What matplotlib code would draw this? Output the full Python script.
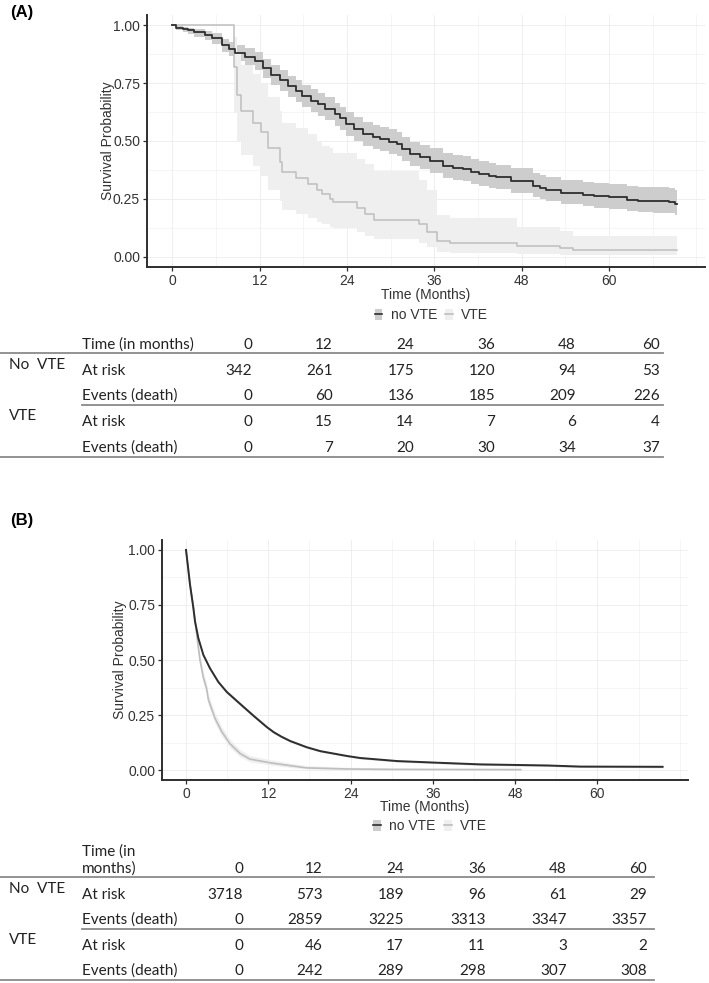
import matplotlib
matplotlib.use('Agg')
import matplotlib.pyplot as plt
from matplotlib.patches import Patch
from matplotlib.lines import Line2D

plt.rcParams['font.family'] = ['Liberation Sans', 'DejaVu Sans']

# ---- panel A : Kaplan-Meier steps ----
a_novte_t = [0, 0.5, 1.5, 2.2, 3.0, 4.5, 5.5, 6.8, 7.8, 8.6, 10.0, 11.4, 12.5, 13.6, 14.8,
             15.9, 17.0, 17.8, 19.0, 20.0, 21.0, 22.3, 23.0, 23.9, 25.0, 26.2, 27.5, 28.5,
             29.7, 30.8, 31.6, 32.6, 34.0, 35.4, 37.2, 38.5, 39.9, 41.0, 42.2, 43.5, 44.5,
             46.6, 49.5, 50.5, 51.4, 53.4, 56.4, 58.0, 60.0, 62.5, 64.0, 66.0, 68.3, 69.1, 69.4]
a_novte_s = [1.0, 0.99, 0.985, 0.98, 0.97, 0.958, 0.945, 0.915, 0.90, 0.88, 0.865, 0.845, 0.815,
             0.787, 0.762, 0.737, 0.715, 0.694, 0.675, 0.658, 0.64, 0.615, 0.598, 0.572, 0.55,
             0.529, 0.517, 0.508, 0.497, 0.486, 0.465, 0.443, 0.43, 0.415, 0.393, 0.385, 0.379,
             0.368, 0.358, 0.35, 0.343, 0.329, 0.307, 0.298, 0.29, 0.276, 0.267, 0.262, 0.257,
             0.246, 0.242, 0.239, 0.237, 0.226, 0.226]
a_novte_lo = [1.0, 0.978, 0.97, 0.962, 0.95, 0.935, 0.918, 0.885, 0.866, 0.845, 0.828, 0.805,
              0.772, 0.742, 0.716, 0.69, 0.667, 0.645, 0.626, 0.608, 0.59, 0.564, 0.547, 0.52,
              0.498, 0.477, 0.465, 0.456, 0.445, 0.434, 0.413, 0.391, 0.378, 0.363, 0.341, 0.333,
              0.327, 0.316, 0.306, 0.298, 0.291, 0.277, 0.256, 0.247, 0.239, 0.226, 0.217, 0.212,
              0.207, 0.197, 0.193, 0.19, 0.188, 0.178, 0.178]
a_novte_hi = [1.0, 0.997, 0.994, 0.99, 0.984, 0.976, 0.966, 0.942, 0.93, 0.915, 0.902, 0.884,
              0.856, 0.83, 0.806, 0.783, 0.762, 0.742, 0.724, 0.707, 0.69, 0.666, 0.649, 0.624,
              0.602, 0.581, 0.569, 0.56, 0.55, 0.539, 0.518, 0.496, 0.483, 0.468, 0.447, 0.439,
              0.433, 0.422, 0.412, 0.404, 0.397, 0.384, 0.362, 0.353, 0.346, 0.333, 0.324, 0.32,
              0.315, 0.305, 0.302, 0.3, 0.298, 0.29, 0.29]

a_vte_t = [0, 8.5, 8.9, 9.4, 11.1, 12.2, 13.2, 14.8, 15.1, 17.0, 18.6, 19.8, 20.5, 21.6, 22.0,
           25.4, 26.5, 27.7, 33.9, 35.0, 36.3, 38.2, 47.3, 53.3, 55.0, 69.3]
a_vte_s = [1.0, 0.82, 0.70, 0.63, 0.58, 0.54, 0.47, 0.41, 0.365, 0.34, 0.315, 0.29, 0.27, 0.25,
           0.236, 0.21, 0.185, 0.16, 0.14, 0.107, 0.067, 0.057, 0.045, 0.037, 0.029, 0.029]
a_vte_lo = [1.0, 0.62, 0.50, 0.44, 0.39, 0.35, 0.29, 0.24, 0.20, 0.185, 0.165, 0.15, 0.14, 0.13,
            0.125, 0.105, 0.09, 0.075, 0.06, 0.04, 0.02, 0.017, 0.01, 0.007, 0.005, 0.005]
a_vte_hi = [1.0, 0.95, 0.88, 0.83, 0.79, 0.75, 0.69, 0.63, 0.58, 0.555, 0.53, 0.50, 0.48, 0.47,
            0.45, 0.42, 0.40, 0.37, 0.33, 0.29, 0.18, 0.165, 0.13, 0.11, 0.09, 0.09]

# ---- panel B : dense curves, read as points ----
b_novte_t = [0, 0.3, 0.58, 1.07, 1.31, 1.8, 2.53, 3.5, 4.72, 5.94, 7.88, 9.8, 11.8, 12.8, 13.9,
             15.2, 17.6, 19.6, 23.5, 25.4, 30.8, 37.1, 42.9, 52.7, 57.5, 69.5]
b_novte_s = [1.0, 0.92, 0.844, 0.737, 0.676, 0.599, 0.523, 0.462, 0.40, 0.355, 0.301, 0.248,
             0.195, 0.172, 0.152, 0.132, 0.104, 0.086, 0.064, 0.055, 0.041, 0.033, 0.026, 0.021,
             0.016, 0.015]
b_novte_lo = [1.0, 0.915, 0.838, 0.73, 0.669, 0.592, 0.516, 0.455, 0.393, 0.348, 0.294, 0.241,
              0.189, 0.166, 0.147, 0.127, 0.099, 0.082, 0.06, 0.051, 0.037, 0.029, 0.022, 0.017,
              0.012, 0.011]
b_novte_hi = [1.0, 0.925, 0.85, 0.744, 0.683, 0.606, 0.53, 0.469, 0.407, 0.362, 0.308, 0.255,
              0.201, 0.178, 0.158, 0.137, 0.109, 0.09, 0.068, 0.059, 0.045, 0.037, 0.03, 0.025,
              0.02, 0.019]

b_vte_t = [0, 0.3, 0.58, 1.07, 1.31, 1.7, 2.04, 2.53, 3.0, 3.26, 4.23, 5.2, 6.4, 7.9, 9.3, 12.3,
           15.2, 17.6, 23.5, 30.0, 48.8]
b_vte_s = [1.0, 0.92, 0.84, 0.74, 0.68, 0.58, 0.50, 0.42, 0.37, 0.32, 0.235, 0.175, 0.12, 0.075,
           0.05, 0.033, 0.02, 0.01, 0.005, 0.003, 0.002]
b_vte_lo = [1.0, 0.91, 0.825, 0.72, 0.655, 0.555, 0.475, 0.395, 0.345, 0.295, 0.213, 0.155,
            0.102, 0.06, 0.038, 0.023, 0.012, 0.005, 0.002, 0.001, 0.0005]
b_vte_hi = [1.0, 0.93, 0.855, 0.76, 0.70, 0.605, 0.525, 0.445, 0.395, 0.345, 0.26, 0.198, 0.14,
            0.093, 0.066, 0.047, 0.032, 0.02, 0.013, 0.01, 0.008]

# ---- risk tables ----
tab_times = ['0', '12', '24', '36', '48', '60']
a_novte_risk = [342, 261, 175, 120, 94, 53]
a_novte_events = [0, 60, 136, 185, 209, 226]
a_vte_risk = [0, 15, 14, 7, 6, 4]
a_vte_events = [0, 7, 20, 30, 34, 37]
b_novte_risk = [3718, 573, 189, 96, 61, 29]
b_novte_events = [0, 2859, 3225, 3313, 3347, 3357]
b_vte_risk = [0, 46, 17, 11, 3, 2]
b_vte_events = [0, 242, 289, 298, 307, 308]

x_ticks = [0, 12, 24, 36, 48, 60]
y_ticks = [0.0, 0.25, 0.5, 0.75, 1.0]

DARK = '#2e2e2e'
DARK_BAND = '#cdcdcd'
LIGHT = '#bebebe'
LIGHT_BAND = '#efefef'
TXT = '#333333'

fig = plt.figure(figsize=(7.09, 9.83), dpi=100)


def style_axes(ax, ylab_x):
    ax.set_xlim(-3.5, 73.2)
    ax.set_ylim(-0.045, 1.045)
    ax.set_xticks(x_ticks)
    ax.set_xticks([t + 6 for t in x_ticks] + [72], minor=True)
    ax.set_yticks(y_ticks)
    ax.set_yticks([0.125, 0.375, 0.625, 0.875], minor=True)
    ax.set_yticklabels([f'{v:.2f}' for v in y_ticks])
    ax.grid(True, which='major', color='#ebebeb', lw=0.6)
    ax.grid(True, which='minor', color='#f2f2f2', lw=0.5)
    ax.set_axisbelow(True)
    for s in ['top', 'right']:
        ax.spines[s].set_visible(False)
    for s in ['left', 'bottom']:
        ax.spines[s].set_color(DARK)
        ax.spines[s].set_linewidth(1.4)
    ax.tick_params(which='major', length=3, width=0.9, color=DARK, labelsize=10,
                   labelcolor=TXT, pad=2)
    ax.tick_params(which='minor', length=0)
    ax.set_xlabel('Time (Months)', fontsize=10, color=TXT)
    ax.set_ylabel('Survival Probability', fontsize=10, color=TXT)
    ax.yaxis.set_label_coords(ylab_x, 0.5)
    ax.xaxis.set_label_coords(0.5, -0.085)
    handles = [(Patch(facecolor=DARK_BAND, edgecolor='none'), Line2D([], [], color=DARK, lw=1.2)),
               (Patch(facecolor=LIGHT_BAND, edgecolor='none'), Line2D([], [], color=LIGHT, lw=1.2))]
    ax.legend(handles, ['no VTE', 'VTE'], loc='center', bbox_to_anchor=(0.51, -0.192),
              ncol=2, frameon=False, fontsize=10, handlelength=0.55, handleheight=0.9,
              handletextpad=0.6, columnspacing=0.6, labelcolor=TXT)


# panel A
axA = fig.add_axes([147 / 709, 1 - 267 / 983, 558 / 709, 252 / 983])
axA.fill_between(a_novte_t, a_novte_lo, a_novte_hi, step='post', color=DARK_BAND, lw=0)
axA.fill_between(a_vte_t, a_vte_lo, a_vte_hi, step='post', color=LIGHT_BAND, lw=0)
axA.step(a_vte_t, a_vte_s, where='post', color=LIGHT, lw=1.1)
axA.step(a_novte_t, a_novte_s, where='post', color=DARK, lw=1.3)
style_axes(axA, -0.058)

# panel B
axB = fig.add_axes([162 / 709, 1 - 780 / 983, 526 / 709, 240 / 983])
axB.fill_between(b_novte_t, b_novte_lo, b_novte_hi, color=DARK_BAND, lw=0)
axB.fill_between(b_vte_t, b_vte_lo, b_vte_hi, color=LIGHT_BAND, lw=0)
axB.plot(b_vte_t, b_vte_s, color=LIGHT, lw=1.2)
axB.plot(b_novte_t, b_novte_s, color=DARK, lw=1.4)
style_axes(axB, -0.066)

fig.text(10 / 709, 1 - 12 / 983, '(A)', fontsize=12, fontweight='bold', va='center')
fig.text(10 / 709, 1 - 520 / 983, '(B)', fontsize=12, fontweight='bold', va='center')

# tables drawn on a pixel-space overlay
tab = fig.add_axes([0, 0, 1, 1])
tab.set_xlim(0, 709)
tab.set_ylim(983, 0)
tab.axis('off')
TF = dict(family=['Lato', 'DejaVu Sans'], fontsize=11, color='#222222', va='center')
LINE = dict(color='#8a8a8a', lw=1.3)


def risk_table(rows_y, lines_y, col_right, line_end, header, head_y, group_y,
               nv_risk, nv_ev, v_risk, v_ev):
    for i, hy in enumerate(head_y):
        tab.text(82, hy, header[i], ha='left', **TF)
    for j, t in enumerate(tab_times):
        tab.text(col_right[j], head_y[-1], t, ha='right', **TF)
    labels = ['At risk', 'Events (death)', 'At risk', 'Events (death)']
    vals = [nv_risk, nv_ev, v_risk, v_ev]
    for y, lab, row in zip(rows_y, labels, vals):
        tab.text(82, y, lab, ha='left', **TF)
        for j, v in enumerate(row):
            tab.text(col_right[j], y, str(v), ha='right', **TF)
    tab.text(9, group_y[0], 'No  VTE', ha='left', **TF)
    tab.text(9, group_y[1], 'VTE', ha='left', **TF)
    tab.plot([0, line_end], [lines_y[0]] * 2, **LINE)
    tab.plot([82, line_end], [lines_y[1]] * 2, **LINE)
    tab.plot([0, line_end], [lines_y[2]] * 2, **LINE)


risk_table([371, 396, 422, 448], [353, 405, 457], [252, 333, 414, 495, 576, 660], 663,
           ['Time (in months)'], [345], [365, 416],
           a_novte_risk, a_novte_events, a_vte_risk, a_vte_events)
risk_table([895, 920, 946, 971], [877, 929, 980], [243, 323, 404, 486, 567, 647], 654,
           ['Time (in', 'months)'], [852, 869], [889, 940],
           b_novte_risk, b_novte_events, b_vte_risk, b_vte_events)

fig.savefig('out.png', dpi=100)
